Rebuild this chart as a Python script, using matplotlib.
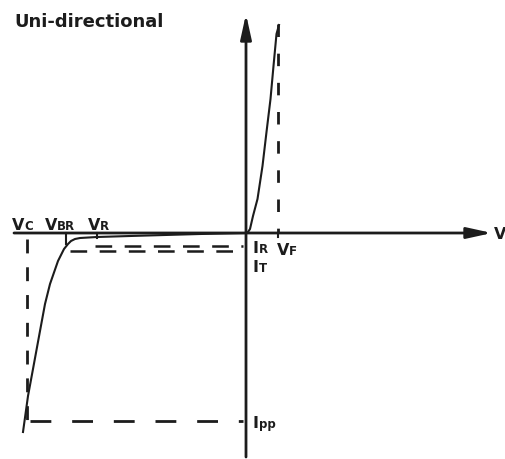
import numpy as np
import matplotlib
matplotlib.use('Agg')
import matplotlib.pyplot as plt

# diagram values, arbitrary units (V to the right, I upward, origin at axis crossing)
fwd_v = [0, 2, 4, 7, 11.5, 16.5, 20.5, 24.5, 27.5, 30.5, 33]
fwd_i = [0, 1, 4, 17, 34, 67, 101, 134, 167, 199, 208]

rev_v = [0, -46, -116, -149, -166, -171, -175, -178, -182, -188, -196, -201, -206, -213, -218, -223]
rev_i = [0, -1, -3, -4, -5, -6, -8, -11, -16, -28, -51, -71, -98, -136, -163, -199]

V_C = -219
V_BR = -180
V_R = -149
V_F = 32
I_R = -13
I_T = -18
I_PP = -188
I_TOP = 209

x_range = (-246, 260)
y_range = (-226, 234)

plt.rcParams['lines.scale_dashes'] = False
plt.rcParams['font.family'] = ['DejaVu Sans']

ink = '#1c1c1c'

fig = plt.figure(figsize=(5.06, 4.60), dpi=100)
ax = fig.add_axes([0, 0, 1, 1])
ax.set_xlim(*x_range)
ax.set_ylim(*y_range)
ax.axis('off')

# axes with arrows
arrow = dict(arrowstyle='-|>,head_length=1.5,head_width=0.33', lw=2, color=ink,
             shrinkA=0, shrinkB=0, mutation_scale=10)
ax.annotate('', xy=(246, 0), xytext=(-232, 0), arrowprops=arrow)
ax.annotate('', xy=(0, 219), xytext=(0, -224), arrowprops=arrow)

# curves
ax.plot(fwd_v, fwd_i, color=ink, lw=1.5, solid_joinstyle='round')
ax.plot(rev_v, rev_i, color=ink, lw=1.5, solid_joinstyle='round')

# dashed guides
ax.plot([V_F, V_F], [I_TOP, 0], color=ink, lw=2, ls=(0, (9, 12)))
ax.plot([V_C, V_C], [-6, I_PP], color=ink, lw=2, ls=(0, (10, 10)))
ax.plot([-216, -3], [I_PP, I_PP], color=ink, lw=2, ls=(0, (15, 15)))
ax.plot([-151, -3], [I_R, I_R], color=ink, lw=1.8, ls=(0, (12, 9)))
ax.plot([-176, -3], [I_T, I_T], color=ink, lw=1.8, ls=(0, (12, 9)))

# ticks
ax.plot([V_BR, V_BR], [0, -11], color=ink, lw=1.5)
ax.plot([V_R, V_R], [0, -5], color=ink, lw=1.5)
ax.plot([V_F, V_F], [0, -4], color=ink, lw=1.5)

fig.canvas.draw()
renderer = fig.canvas.get_renderer()


def label(x, y, main, sub=''):
    t = ax.text(x, y, main, fontsize=11.5, fontweight='bold', color=ink,
                ha='left', va='baseline')
    if sub:
        w = t.get_window_extent(renderer).width
        ax.annotate(sub, xy=(x, y), xytext=(w, 0), textcoords='offset pixels',
                    fontsize=8.5, fontweight='bold', color=ink, ha='left', va='baseline')


label(-234, 4, 'V', 'C')
label(-201, 4, 'V', 'BR')
label(-158, 4, 'V', 'R')
label(7, -19, 'I', 'R')
label(31, -21, 'V', 'F')
label(7, -38, 'I', 'T')
label(7, -194, 'I', 'pp')
label(248, -5, 'V')

ax.text(-232, 207, 'Uni-directional', fontsize=13, fontweight='bold', color=ink,
        ha='left', va='baseline')

fig.savefig('out.png', dpi=100)
